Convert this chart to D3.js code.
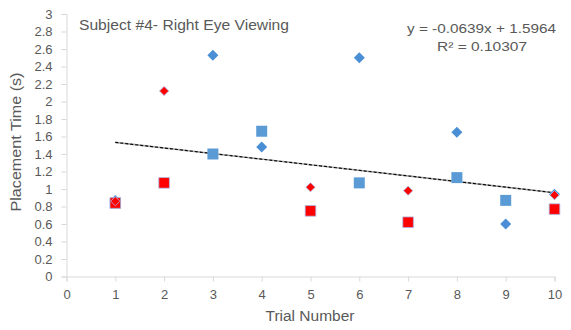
<!DOCTYPE html>
<html><head><meta charset="utf-8">
<script src="https://cdn.jsdelivr.net/npm/d3@7"></script>
<style>body{margin:0;background:#fff}svg{display:block;font-family:"Liberation Sans",Arial,sans-serif}</style>
</head><body><svg id="c" width="571" height="330"></svg>
<script>
const title = "Subject #4- Right Eye Viewing";
const xTitle = "Trial Number";
const yTitle = "Placement Time (s)";
const xTicks = [0,1,2,3,4,5,6,7,8,9,10];
const yTicks = [0,0.2,0.4,0.6,0.8,1,1.2,1.4,1.6,1.8,2,2.2,2.4,2.6,2.8,3];
const blueDiamondX = [1,3,4,6,8,9,10];
const blueDiamondY = [0.87,2.53,1.48,2.50,1.65,0.60,0.94];
const blueSquareX = [1,3,4,6,8,9];
const blueSquareY = [0.84,1.40,1.66,1.07,1.13,0.87];
const redDiamondX = [1,2,5,7,10];
const redDiamondY = [0.86,2.12,1.02,0.98,0.93];
const redSquareX = [1,2,5,7,10];
const redSquareY = [0.84,1.07,0.75,0.62,0.77];
const trendSlope = -0.0639, trendIntercept = 1.5964;
const trendRange = [1,10];
const eqText = "y = -0.0639x + 1.5964";
const r2Text = "R² = 0.10307";

const svg = d3.select("#c");
const x = d3.scaleLinear().domain([0,10]).range([66.5,554.5]);
const y = d3.scaleLinear().domain([0,3]).range([276.5,14]);
const grey = "#595959", axisCol = "#d9d9d9";

const xa = svg.append("g").attr("transform",`translate(0,${y(0)})`)
  .call(d3.axisBottom(x).tickValues(xTicks).tickSize(5).tickPadding(8).tickFormat(d3.format("d")));
const ya = svg.append("g").attr("transform",`translate(${x(0)},0)`)
  .call(d3.axisLeft(y).tickValues(yTicks).tickSize(5).tickPadding(9).tickFormat(d=>String(+d.toFixed(1))));
[xa,ya].forEach(a=>{
  a.selectAll("path,line").attr("stroke",axisCol);
  a.selectAll("text").attr("fill",grey).style("font-size","13px");
});

// trendline
const tl = trendRange.map(v=>[x(v), y(trendSlope*v+trendIntercept)]);
svg.append("line").attr("x1",tl[0][0]).attr("y1",tl[0][1]).attr("x2",tl[1][0]).attr("y2",tl[1][1])
  .attr("stroke","#a6a6a6").attr("stroke-width",1.6);
svg.append("line").attr("x1",tl[0][0]).attr("y1",tl[0][1]).attr("x2",tl[1][0]).attr("y2",tl[1][1])
  .attr("stroke","#000").attr("stroke-width",1.1).attr("stroke-dasharray","3,2");

const diamond = s=>`M0,${-s}L${s},0L0,${s}L${-s},0Z`;
const square = s=>`M${-s},${-s}H${s}V${s}H${-s}Z`;
function pts(xs,ys,shape,size,fill,stroke){
  svg.append("g").selectAll("path").data(xs.map((v,i)=>[v,ys[i]])).join("path")
    .attr("transform",d=>`translate(${x(d[0])},${y(d[1])})`)
    .attr("d",shape(size)).attr("fill",fill)
    .attr("stroke",stroke).attr("stroke-width",stroke==="none"?0:0.8);
}
pts(blueSquareX,blueSquareY,square,5.5,"#5b9bd5","none");
pts(blueDiamondX,blueDiamondY,diamond,5.5,"#4a8fd6","none");
pts(redSquareX,redSquareY,square,5.3,"#ff0000","#a9b8e6");
pts(redDiamondX,redDiamondY,diamond,4.6,"#ff0000","#a9b8e6");

function txt(xp,yp,anchor,size,len,s,rot){
  const t = svg.append("text").attr("text-anchor",anchor).attr("fill",grey)
    .style("font-size",size+"px").attr("textLength",len).attr("lengthAdjust","spacingAndGlyphs").text(s);
  if(rot) t.attr("transform",`translate(${xp},${yp}) rotate(-90)`); else t.attr("x",xp).attr("y",yp);
}
txt(79,30,"start",14,210,title);
txt(556,33,"end",13,149,eqText);
txt(482,51,"middle",13,90,r2Text);
txt(310,321,"middle",14,89,xTitle);
txt(21,142,"middle",14,139,yTitle,true);
</script></body></html>
